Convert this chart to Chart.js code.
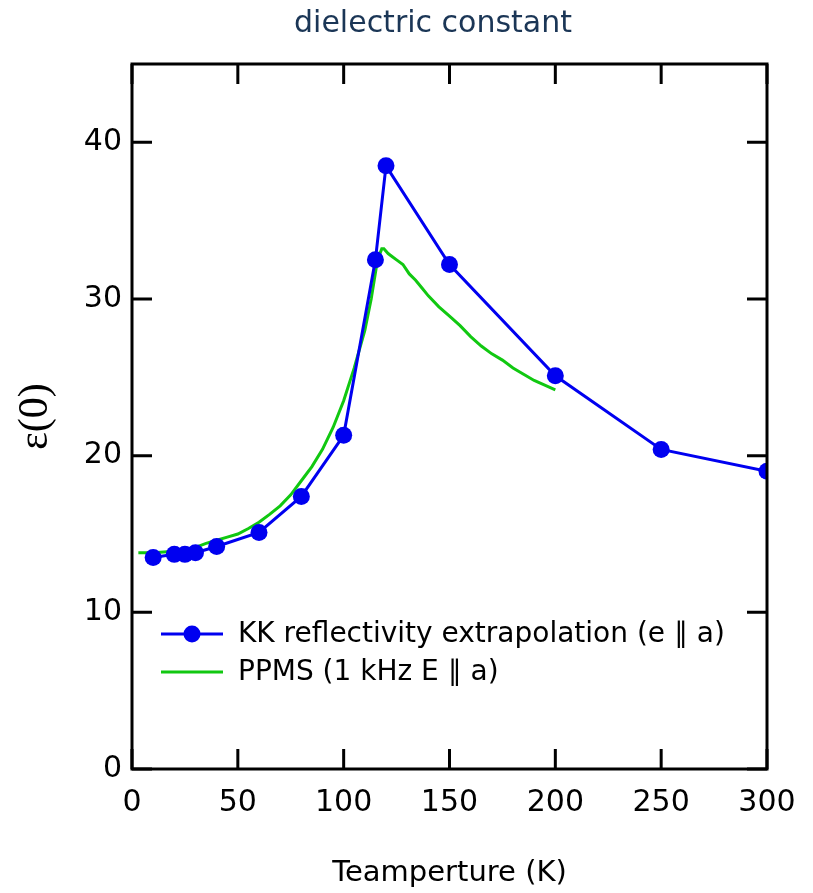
<!DOCTYPE html>
<html>
<head>
<meta charset="utf-8">
<script src="https://cdn.jsdelivr.net/npm/chart.js@4.4.1/dist/chart.umd.min.js"></script>
<style>
  html, body { margin: 0; padding: 0; background: #ffffff; }
  #wrap { width: 813px; height: 893px; }
</style>
</head>
<body>
<div id="wrap"><canvas id="eps_chart" width="813" height="893"></canvas></div>
<script>
// KK reflectivity extrapolation (points)
var kkTemps = [10, 20, 25, 30, 40, 60, 80, 100, 115, 120, 150, 200, 250, 300];
var kkEps   = [13.5, 13.7, 13.7, 13.8, 14.2, 15.1, 17.4, 21.3, 32.5, 38.5, 32.2, 25.1, 20.4, 19.0];

// PPMS 1 kHz curve
var ppmsTemps = [3, 10, 15, 20, 25, 30, 35, 40, 45, 50, 55, 60, 65, 70, 75, 80, 85, 90, 95, 100,
                 105, 110, 113, 116, 118, 119, 121, 123, 125, 128, 131, 134, 137, 140, 145, 150,
                 155, 160, 165, 170, 175, 180, 185, 190, 195, 200];
var ppmsEps   = [13.8, 13.8, 13.85, 13.9, 14.0, 14.15, 14.4, 14.6, 14.8, 15.0, 15.35, 15.75, 16.25, 16.8, 17.5, 18.4, 19.3, 20.4, 21.8, 23.5,
                 25.6, 28.0, 30.0, 32.5, 33.2, 33.2, 32.9, 32.7, 32.5, 32.2, 31.6, 31.2, 30.7, 30.2, 29.5, 28.9,
                 28.3, 27.6, 27.0, 26.5, 26.1, 25.6, 25.2, 24.8, 24.5, 24.2];

var xTicks = [0, 50, 100, 150, 200, 250, 300];
var yTicks = [0, 10, 20, 30, 40];

var labels = ["KK reflectivity extrapolation (e \u2225 a)", "PPMS (1 kHz E \u2225 a)"];
var chartTitle = 'dielectric constant';

function pairs(xs, ys) {
  var out = [];
  for (var i = 0; i < xs.length; i++) out.push({x: xs[i], y: ys[i]});
  return out;
}

var FONT = "'DejaVu Sans', sans-serif";

// box + inward ticks on all four sides
var frame = {
  id: 'frame',
  afterDatasetsDraw: function (chart) {
    var ctx = chart.ctx, a = chart.chartArea;
    var xs = chart.scales.x, ys = chart.scales.y;
    var len = 20;
    ctx.save();
    ctx.strokeStyle = '#000';
    ctx.lineWidth = 3;
    ctx.beginPath();
    xTicks.forEach(function (v) {
      var px = xs.getPixelForValue(v);
      ctx.moveTo(px, a.bottom); ctx.lineTo(px, a.bottom - len);
      ctx.moveTo(px, a.top); ctx.lineTo(px, a.top + len);
    });
    yTicks.forEach(function (v) {
      var py = ys.getPixelForValue(v);
      ctx.moveTo(a.left, py); ctx.lineTo(a.left + len, py);
      ctx.moveTo(a.right, py); ctx.lineTo(a.right - len, py);
    });
    ctx.stroke();
    ctx.strokeRect(a.left, a.top, a.right - a.left, a.bottom - a.top);
    ctx.restore();
  }
};

// title above the plot box, legend inside the plot (bottom-left)
var overlay = {
  id: 'overlay',
  afterDraw: function (chart) {
    var ctx = chart.ctx, a = chart.chartArea;
    var sets = chart.data.datasets;
    ctx.save();
    ctx.font = "30px " + FONT;
    ctx.fillStyle = '#1b3656';
    ctx.textAlign = 'center';
    ctx.textBaseline = 'alphabetic';
    ctx.fillText(chartTitle, 433, 32);

    var x0 = 161, x1 = 223, tx = 238;
    var rows = [634, 672];
    ctx.font = "28px " + FONT;
    ctx.textAlign = 'left';
    ctx.textBaseline = 'middle';
    sets.forEach(function (ds, i) {
      var y = rows[i];
      ctx.strokeStyle = ds.borderColor;
      ctx.lineWidth = ds.borderWidth;
      ctx.beginPath(); ctx.moveTo(x0, y); ctx.lineTo(x1, y); ctx.stroke();
      if (ds.pointRadius > 0) {
        ctx.fillStyle = ds.pointBackgroundColor;
        ctx.beginPath(); ctx.arc((x0 + x1) / 2, y, ds.pointRadius, 0, Math.PI * 2); ctx.fill();
      }
      ctx.fillStyle = '#000';
      ctx.fillText(ds.label, tx, y + 1);
    });
    ctx.restore();
  }
};

var ctx = document.getElementById('eps_chart').getContext('2d');
var chart = new Chart(ctx, {
  type: 'line',
  data: {
    datasets: [
      {
        label: labels[0],
        data: pairs(kkTemps, kkEps),
        borderColor: '#0000f0',
        borderWidth: 3,
        pointRadius: 8.5,
        pointBackgroundColor: '#0000f0',
        pointBorderWidth: 0,
        tension: 0,
        order: 1
      },
      {
        label: labels[1],
        data: pairs(ppmsTemps, ppmsEps),
        borderColor: '#11c811',
        borderWidth: 3,
        pointRadius: 0,
        tension: 0,
        order: 2
      }
    ]
  },
  options: {
    responsive: false,
    animation: false,
    layout: { padding: { left: 0, right: 46, top: 64, bottom: 0 } },
    plugins: {
      legend: { display: false },
      tooltip: { enabled: false },
      title: { display: false }
    },
    scales: {
      x: {
        type: 'linear',
        min: 0, max: 300,
        grid: { display: false, drawTicks: false },
        border: { display: false },
        ticks: { stepSize: 50, color: '#000', padding: 16, font: { family: FONT, size: 30 } },
        afterBuildTicks: function (s) { s.ticks = xTicks.map(function (v) { return {value: v}; }); },
        afterFit: function (s) { s.height = 124; },
        title: {
          display: true,
          text: 'Teamperture (K)',
          color: '#000',
          font: { family: FONT, size: 29 },
          padding: { top: 0, bottom: 2 }
        }
      },
      y: {
        type: 'linear',
        min: 0, max: 45,
        grid: { display: false, drawTicks: false },
        border: { display: false },
        ticks: { stepSize: 10, color: '#000', padding: 10, font: { family: FONT, size: 30 } },
        afterBuildTicks: function (s) { s.ticks = yTicks.map(function (v) { return {value: v}; }); },
        afterFit: function (s) { s.width = 132; },
        title: {
          display: true,
          text: '\u03b5(0)',
          color: '#000',
          font: { family: "'Liberation Serif', serif", size: 42 },
          padding: { top: 11, bottom: 0 }
        }
      }
    }
  },
  plugins: [frame, overlay]
});
</script>
</body>
</html>
